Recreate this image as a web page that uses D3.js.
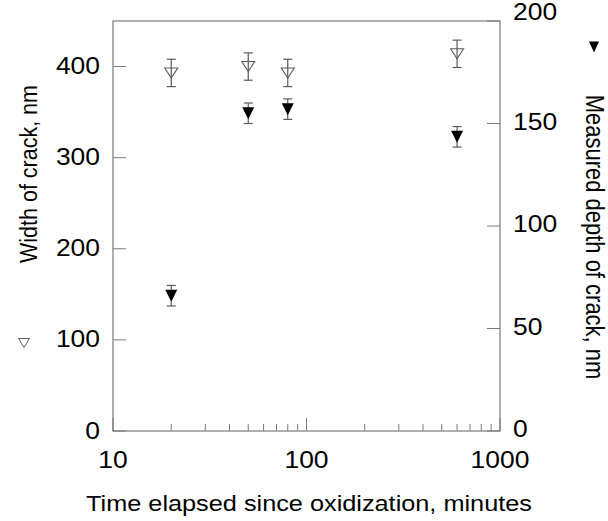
<!DOCTYPE html>
<html><head><meta charset="utf-8">
<script src="https://cdn.jsdelivr.net/npm/d3@7"></script>
<style>body{margin:0;background:#fff}svg{display:block}text{font-family:"Liberation Sans",Arial,sans-serif;fill:#000}</style>
</head><body><svg id="c" width="608" height="521"></svg>
<script>
const times = [20, 50, 80, 600];
const widthVals = [393, 400, 393, 414];
const widthErr = [15, 15, 15, 15];
const depthVals = [66, 155, 157, 143.5];
const depthErr = [5, 5, 5, 5];
const xTickLabels = [10, 100, 1000];
const leftTicks = [0, 100, 200, 300, 400];
const rightTicks = [0, 50, 100, 150, 200];

const L = 113, R = 500, T = 21, B = 431;
const svg = d3.select("#c");
const x = d3.scaleLog().domain([10, 1000]).range([L, R]);
const yL = d3.scaleLinear().domain([0, 450]).range([B, T]);
const yR = d3.scaleLinear().domain([0, 200]).range([B, T]);
const axisCol = "#7a7a7a", markCol = "#5a5a5a";
const fs = 23, sx = 1.15;

function label(px, py, txt, anchor, size, rot) {
  svg.append("text")
    .attr("transform", `translate(${px},${py}) scale(${sx},1)` + (rot ? ` rotate(${rot})` : ""))
    .attr("text-anchor", anchor).attr("font-size", size).text(txt);
}

// frame
svg.append("rect").attr("x", L).attr("y", T).attr("width", R - L).attr("height", B - T)
  .attr("fill", "none").attr("stroke", axisCol).attr("stroke-width", 1.2);

// x ticks
const minor = [];
[10, 100].forEach(d => { for (let k = 2; k <= 9; k++) minor.push(d * k); });
svg.selectAll(".xmin").data(minor).join("line")
  .attr("x1", d => x(d)).attr("x2", d => x(d)).attr("y1", B).attr("y2", B - 7)
  .attr("stroke", axisCol);
svg.selectAll(".xmaj").data(xTickLabels).join("line")
  .attr("x1", d => x(d)).attr("x2", d => x(d)).attr("y1", B).attr("y2", B - 13)
  .attr("stroke", axisCol);
xTickLabels.forEach(d => label(x(d), 468, d, "middle", fs));

// left ticks
svg.selectAll(".ylt").data(leftTicks).join("line")
  .attr("x1", L).attr("x2", L + 13).attr("y1", d => yL(d)).attr("y2", d => yL(d))
  .attr("stroke", axisCol);
leftTicks.forEach(d => label(100, yL(d) + 7.5, d, "end", fs));

// right ticks
svg.selectAll(".yrt").data(rightTicks).join("line")
  .attr("x1", R).attr("x2", R - 13).attr("y1", d => yR(d)).attr("y2", d => yR(d))
  .attr("stroke", axisCol);
rightTicks.forEach(d => label(513, yR(d) + 6 - (d === 200 ? 7 : 0), d, "start", fs));

// error bars
function errBars(vals, errs, y, col) {
  const g = svg.append("g").attr("stroke", col).attr("stroke-width", 1.2);
  times.forEach((t, i) => {
    const cx = x(t), y1 = y(vals[i] + errs[i]), y2 = y(vals[i] - errs[i]);
    g.append("line").attr("x1", cx).attr("x2", cx).attr("y1", y1).attr("y2", y2);
    g.append("line").attr("x1", cx - 4.5).attr("x2", cx + 4.5).attr("y1", y1).attr("y2", y1);
    g.append("line").attr("x1", cx - 4.5).attr("x2", cx + 4.5).attr("y1", y2).attr("y2", y2);
  });
}
errBars(widthVals, widthErr, yL, markCol);
errBars(depthVals, depthErr, yR, markCol);

function tri(cx, cy, w, h) {
  return `M${cx - w / 2},${cy - h / 2}L${cx + w / 2},${cy - h / 2}L${cx},${cy + h / 2}Z`;
}
svg.selectAll(".open").data(times).join("path")
  .attr("d", (t, i) => tri(x(t), yL(widthVals[i]), 13, 10))
  .attr("fill", "none").attr("stroke", markCol).attr("stroke-width", 1.1);
svg.selectAll(".filled").data(times).join("path")
  .attr("d", (t, i) => tri(x(t), yR(depthVals[i]), 12, 12))
  .attr("fill", "#000");

// titles
label(309, 511, "Time elapsed since oxidization, minutes", "middle", 22);
label(37, 174, "Width of crack, nm", "middle", 21.5, -90);
svg.append("path").attr("d", tri(24, 343, 11, 9)).attr("fill", "none").attr("stroke", markCol).attr("stroke-width", 1);
label(586, 237, "Measured depth of crack, nm", "middle", 22, 90);
svg.append("path").attr("d", tri(594, 47, 10, 11)).attr("fill", "#000");
</script></body></html>
